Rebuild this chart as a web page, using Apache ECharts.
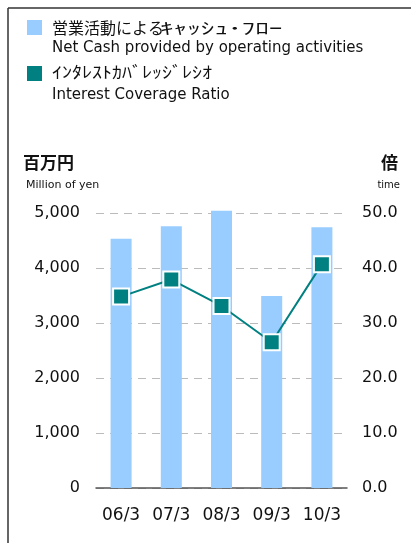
<!DOCTYPE html>
<html>
<head>
<meta charset="utf-8">
<script src="https://cdn.jsdelivr.net/npm/echarts@6/dist/echarts.min.js"></script>
<style>
  html, body { margin: 0; padding: 0; background: #fff; }
  #chart { width: 411px; height: 543px; }
</style>
</head>
<body>
<div id="chart"></div>
<script>
// data
const categories = ['06/3', '07/3', '08/3', '09/3', '10/3'];
const cashFlow = [4530, 4760, 5040, 3490, 4740];      // 百万円
const coverage = [34.8, 37.9, 33.1, 26.5, 40.7];      // 倍
const cashKanji = '営業活動による';
const cashKana = 'ｷｬｯｼｭ･ﾌﾛｰ';
const cashSub = 'Net Cash provided by operating activities';
const ratioName = 'ｲﾝﾀﾚｽﾄｶﾊﾞﾚｯｼﾞﾚｼｵ';
const ratioSub = 'Interest Coverage Ratio';

const barColor = '#99ccff';
const lineColor = '#008080';
const jpFont = '"Noto Sans CJK JP", sans-serif';
const numFont = '"DejaVu Sans", sans-serif';

window.onload = function () {
    const myChart = echarts.init(document.getElementById('chart'));

    // plain text label, vertically centred on y
    function txt(x, y, text, font, align, extra) {
        return Object.assign({
            type: 'text', x: x, y: y,
            style: { text: text, font: font, fill: '#111', verticalAlign: 'middle', align: align || 'left' }
        }, extra || {});
    }

    const option = {
        animation: false,
        backgroundColor: '#fff',
        grid: { left: 96, right: 64, top: 213, bottom: 55 },
        graphic: [
            // frame, only left and top edges show
            { type: 'line', shape: { x1: 8, y1: 8, x2: 411, y2: 8 }, style: { stroke: '#333', lineWidth: 1.5 } },
            { type: 'line', shape: { x1: 8, y1: 8, x2: 8, y2: 543 }, style: { stroke: '#333', lineWidth: 1.5 } },
            // legend
            { type: 'rect', shape: { x: 27, y: 20, width: 15, height: 15 }, style: { fill: barColor } },
            txt(52, 28, cashKanji, '16px ' + jpFont),
            txt(160, 28, cashKana, '16px ' + jpFont, 'left', { scaleX: 1.7 }),
            txt(52, 48, cashSub, '15px ' + numFont),
            { type: 'rect', shape: { x: 27, y: 66, width: 15, height: 15 }, style: { fill: lineColor } },
            txt(52, 72, ratioName, '16px ' + jpFont, 'left', { scaleX: 1.25 }),
            txt(52, 95, ratioSub, '15px ' + numFont),
            // axis units
            txt(23, 163, '百万円', 'bold 17px ' + jpFont),
            txt(26, 185, 'Million of yen', '11px ' + numFont),
            txt(398, 163, '倍', 'bold 17px ' + jpFont, 'right'),
            txt(400, 185, 'time', '10px ' + numFont, 'right')
        ],
        xAxis: {
            type: 'category',
            data: categories,
            axisLine: { lineStyle: { color: '#555', width: 1.5 } },
            axisTick: { inside: true, length: 6, lineStyle: { color: '#555' } },
            axisLabel: { color: '#111', fontSize: 17, fontFamily: numFont, margin: 19 }
        },
        yAxis: [
            {
                type: 'value',
                min: 0, max: 5000, interval: 1000,
                axisLine: { show: false },
                axisTick: { show: false },
                axisLabel: {
                    color: '#111', fontSize: 16, fontFamily: numFont, margin: 16,
                    formatter: v => v.toLocaleString('en-US')
                },
                splitLine: { lineStyle: { color: '#bbb', type: [8, 6] } }
            },
            {
                type: 'value',
                min: 0, max: 50, interval: 10,
                axisLine: { show: false },
                axisTick: { show: false },
                axisLabel: {
                    color: '#111', fontSize: 16, fontFamily: numFont, margin: 15,
                    formatter: v => v.toFixed(1)
                },
                splitLine: { show: false }
            }
        ],
        series: [
            {
                name: cashKanji + cashKana,
                type: 'bar',
                data: cashFlow,
                barWidth: 21,
                clip: false,
                itemStyle: { color: barColor }
            },
            {
                name: ratioName,
                type: 'line',
                yAxisIndex: 1,
                data: coverage,
                symbol: 'rect',
                symbolSize: 16,
                lineStyle: { color: lineColor, width: 2 },
                itemStyle: { color: lineColor, borderColor: '#fff', borderWidth: 2 }
            }
        ]
    };

    myChart.setOption(option);
};
</script>
</body>
</html>
